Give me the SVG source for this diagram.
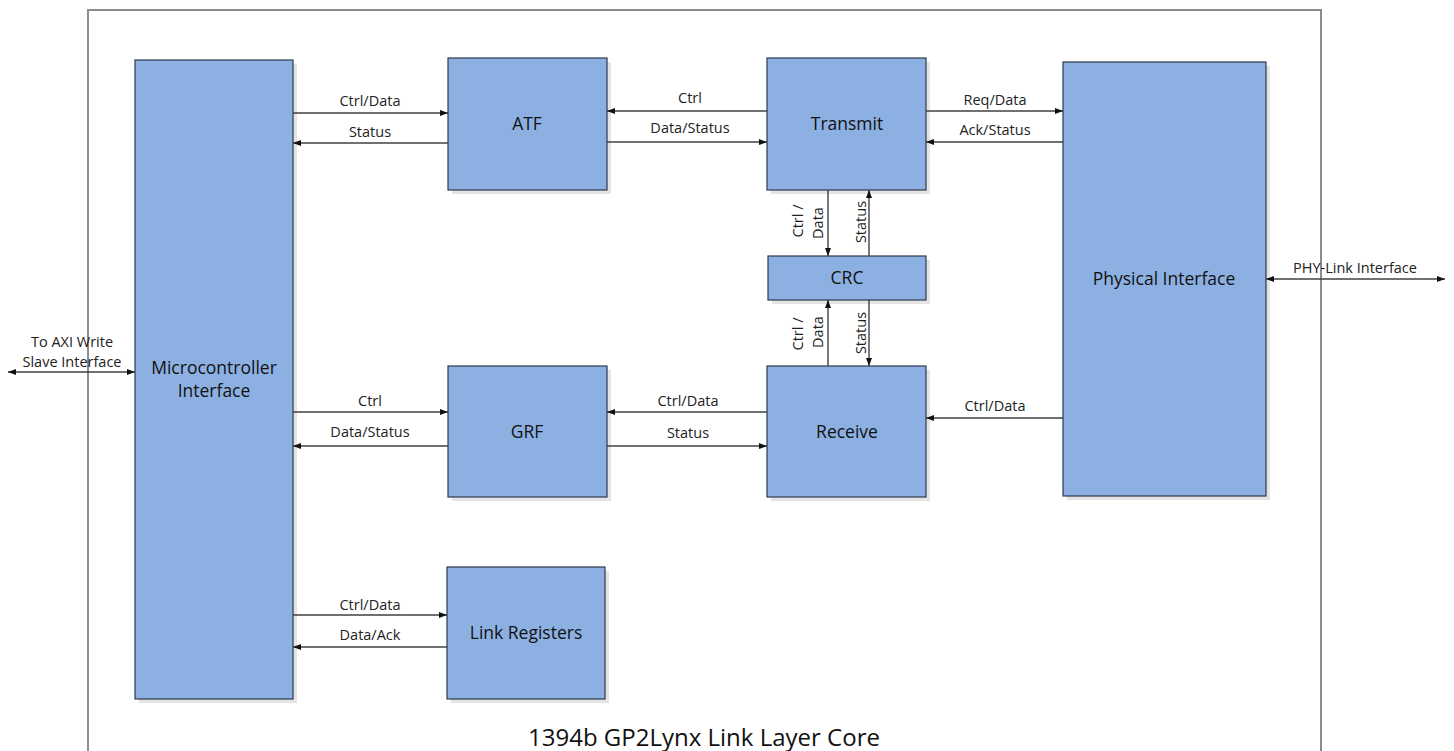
<svg xmlns="http://www.w3.org/2000/svg" width="1454" height="751" viewBox="0 0 1454 751">
<defs>
<marker id="ah" viewBox="0 0 8 6" refX="8" refY="3" markerWidth="8" markerHeight="6" markerUnits="userSpaceOnUse" orient="auto-start-reverse">
<path d="M0,0 L8,3 L0,6 z" fill="#111"/>
</marker>
<style>
.frame{fill:none;stroke:#8c8c8c;stroke-width:2}
.box{fill:#8db0e2;stroke:#2e3a4e;stroke-width:1.2}
.shadow{fill:#e4e4e4}
.bt{font-family:"Open Sans","Noto Sans",sans-serif;font-size:17.5px;fill:#111;text-anchor:middle}
.lb{font-family:"Open Sans","Noto Sans",sans-serif;font-size:14.5px;fill:#222;text-anchor:middle}
.title{font-family:"Open Sans","Noto Sans",sans-serif;font-size:24px;fill:#111;text-anchor:middle}
.cn{fill:none;stroke:#404040;stroke-width:1.4;marker-end:url(#ah)}
.bi{marker-start:url(#ah)}
</style>
</defs>
<rect width="1454" height="751" fill="#fff"/>
<rect class="frame" x="88" y="10" width="1233" height="760"/>
<text class="title" x="704" y="746">1394b GP2Lynx Link Layer Core</text>

<g id="microcontroller">
<rect class="shadow" x="139" y="64" width="158" height="639"/>
<rect class="box" x="135" y="60" width="158" height="639"/>
<text class="bt" x="214" y="374">Microcontroller</text>
<text class="bt" x="214" y="397">Interface</text>
</g>
<g id="atf">
<rect class="shadow" x="452" y="62" width="159" height="132"/>
<rect class="box" x="448" y="58" width="159" height="132"/>
<text class="bt" x="527" y="130">ATF</text>
</g>
<g id="transmit">
<rect class="shadow" x="771" y="62" width="159" height="132"/>
<rect class="box" x="767" y="58" width="159" height="132"/>
<text class="bt" x="847" y="130">Transmit</text>
</g>
<g id="crc">
<rect class="shadow" x="772" y="260" width="158" height="44"/>
<rect class="box" x="768" y="256" width="158" height="44"/>
<text class="bt" x="847" y="284">CRC</text>
</g>
<g id="physical">
<rect class="shadow" x="1067" y="66" width="203" height="434"/>
<rect class="box" x="1063" y="62" width="203" height="434"/>
<text class="bt" x="1164" y="285">Physical Interface</text>
</g>
<g id="grf">
<rect class="shadow" x="452" y="370" width="159" height="131"/>
<rect class="box" x="448" y="366" width="159" height="131"/>
<text class="bt" x="527" y="438">GRF</text>
</g>
<g id="receive">
<rect class="shadow" x="771" y="370" width="159" height="131"/>
<rect class="box" x="767" y="366" width="159" height="131"/>
<text class="bt" x="847" y="438">Receive</text>
</g>
<g id="linkregisters">
<rect class="shadow" x="451" y="571" width="158" height="132"/>
<rect class="box" x="447" y="567" width="158" height="132"/>
<text class="bt" x="526" y="639">Link Registers</text>
</g>

<g id="connectors">
<path class="cn" d="M293,113 H448"/>
<path class="cn" d="M448,143 H293"/>
<path class="cn" d="M767,111 H607"/>
<path class="cn" d="M607,142 H767"/>
<path class="cn" d="M926,111 H1063"/>
<path class="cn" d="M1063,142 H926"/>
<path class="cn" d="M828,190 V256"/>
<path class="cn" d="M869,256 V190"/>
<path class="cn" d="M828,366 V300"/>
<path class="cn" d="M869,300 V366"/>
<path class="cn" d="M293,412 H448"/>
<path class="cn" d="M448,446 H293"/>
<path class="cn" d="M767,412 H607"/>
<path class="cn" d="M607,446 H767"/>
<path class="cn" d="M1063,418 H926"/>
<path class="cn" d="M293,615 H447"/>
<path class="cn" d="M447,647 H293"/>
<path class="cn bi" d="M8,372 H135"/>
<path class="cn bi" d="M1266,279 H1445"/>

<text class="lb" x="370" y="106">Ctrl/Data</text>
<text class="lb" x="370" y="137">Status</text>
<text class="lb" x="690" y="103">Ctrl</text>
<text class="lb" x="690" y="133">Data/Status</text>
<text class="lb" x="995" y="105">Req/Data</text>
<text class="lb" x="995" y="135">Ack/Status</text>
<text class="lb" x="370" y="406">Ctrl</text>
<text class="lb" x="370" y="437">Data/Status</text>
<text class="lb" x="688" y="406">Ctrl/Data</text>
<text class="lb" x="688" y="438">Status</text>
<text class="lb" x="995" y="411">Ctrl/Data</text>
<text class="lb" x="370" y="610">Ctrl/Data</text>
<text class="lb" x="370" y="640">Data/Ack</text>
<text class="lb" x="72" y="347">To AXI Write</text>
<text class="lb" x="72" y="367">Slave Interface</text>
<text class="lb" x="1355" y="273">PHY-Link Interface</text>
<text class="lb" transform="translate(803,221) rotate(-90)">Ctrl /</text>
<text class="lb" transform="translate(823,223) rotate(-90)">Data</text>
<text class="lb" transform="translate(866,222) rotate(-90)">Status</text>
<text class="lb" transform="translate(803,334) rotate(-90)">Ctrl /</text>
<text class="lb" transform="translate(823,332) rotate(-90)">Data</text>
<text class="lb" transform="translate(866,333) rotate(-90)">Status</text>
</g>
</svg>
